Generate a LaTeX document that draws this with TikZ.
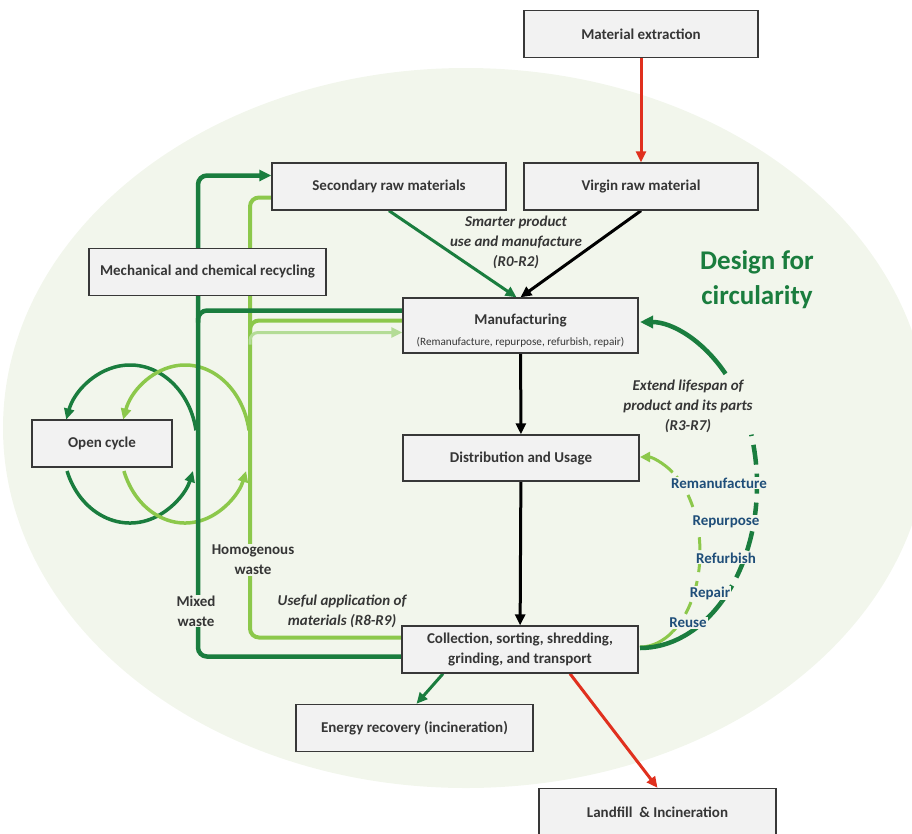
\documentclass[tikz,border=0pt]{standalone}
\usepackage{fontspec}
\setmainfont{Carlito}
\usetikzlibrary{positioning,arrows.meta,calc}
\definecolor{CircGreen}{HTML}{1A7D3E}
\definecolor{CircLight}{HTML}{8CC84B}
\definecolor{CircPale}{HTML}{B4DC96}
\definecolor{FlowRed}{HTML}{E0301E}
\definecolor{TagBlue}{HTML}{1F4E79}
\definecolor{BoxFill}{HTML}{F2F2F2}
\definecolor{BoxLine}{HTML}{383838}
\definecolor{TextGray}{HTML}{363636}
\definecolor{BgGreen}{HTML}{F2F6EC}
\pgfdeclarelayer{backdrop}
\pgfdeclarelayer{wires}
\pgfsetlayers{backdrop,wires,main}

\begin{document}
\begin{tikzpicture}[x=1pt,y=-1pt,
  stage/.style={draw=BoxLine, line width=1.4pt, fill=BoxFill, minimum height=47pt, inner sep=2pt,
    text=TextGray, align=center, font=\fontsize{15}{20}\selectfont\bfseries},
  note/.style={text=TextGray, align=center, inner sep=1pt, font=\fontsize{15}{20}\selectfont\bfseries\itshape},
  waste/.style={text=TextGray, align=center, inner sep=1pt, fill=BgGreen, font=\fontsize{15}{20}\selectfont\bfseries},
  tag/.style={text=TagBlue, inner sep=1pt, fill=BgGreen, font=\fontsize{15}{18}\selectfont\bfseries},
  flow/.style={line width=3pt, -{Triangle[length=11pt,width=10pt]}},
  mixline/.style={CircGreen, line width=4.5pt, rounded corners=9pt},
  homline/.style={CircLight, line width=4pt, rounded corners=9pt},
  loopline/.style={line width=3.5pt, -{Triangle[length=11pt,width=10pt]}}]
  \useasboundingbox (0,0) rectangle (912,833);
  \begin{pgfonlayer}{backdrop}
    \fill[BgGreen] (466,428) ellipse[x radius=463pt, y radius=360pt];
  \end{pgfonlayer}

  \node[stage, minimum width=234pt] (extract) at (641,34) {Material extraction};
  \node[stage, minimum width=234pt] (virgin) at (641,186.5) {Virgin raw material};
  \node[stage, minimum width=234pt] (second) at (389,186.5) {Secondary raw materials};
  \node[stage, minimum width=237pt] (recycle) at (207.5,272) {Mechanical and chemical recycling};
  \node[stage, minimum width=235pt, minimum height=55pt] (manuf) at (520.5,325.5)
    {\rule{0pt}{20pt}Manufacturing\\[1pt]{\fontsize{11.2}{13}\selectfont\mdseries (Remanufacture, repurpose, refurbish, repair)}};
  \node[stage, minimum width=140pt] (opencyc) at (102,443.5) {Open cycle};
  \node[stage, minimum width=236pt, minimum height=46pt] (distrib) at (521,458) {Distribution and Usage};
  \node[stage, minimum width=236pt] (collect) at (520,649.5) {Collection, sorting, shredding,\\grinding, and transport};
  \node[stage, minimum width=237pt] (energy) at (414.5,728) {Energy recovery (incineration)};
  \node[stage, minimum width=237pt] (landfill) at (657.5,812) {Landfill~ \& Incineration};

  \node[note] (smart) at (516,242) {Smarter product\\use and manufacture\\(R0-R2)};
  \node[note, fill=BgGreen] (extend) at (688,406) {Extend lifespan of\\product and its parts\\(R3-R7)};
  \node[note] (useful) at (342,611) {Useful application of\\materials (R8-R9)};
  \node[waste] (homlabel) at (253,560) {Homogenous\\waste};
  \node[waste] (mixlabel) at (196,611) {Mixed\\waste};
  \node[text=CircGreen, align=center, font=\fontsize{27}{35}\selectfont\bfseries] (design) at (757,280) {Design for\\circularity};
  \foreach \nm/\x/\y in {Remanufacture/719/483, Repurpose/726/522, Refurbish/726/558, Repair/710/593, Reuse/688/623}
    \node[tag] (tag\nm) at (\x,\y) {\nm};

  \coordinate (mixX) at (198,0);
  \coordinate (homX) at (250,0);
  \coordinate (mixIn) at ([yshift=-7pt]collect.west);
  \coordinate (homIn) at ([yshift=12pt]collect.west);
  \coordinate (mixOut) at ([yshift=11pt]second.west);
  \coordinate (homOut) at ([yshift=-11pt]second.west);
  \coordinate (manA) at ([yshift=15pt]manuf.west);
  \coordinate (manB) at ([yshift=5pt]manuf.west);
  \coordinate (manC) at ([yshift=-7pt]manuf.west);
  \coordinate (loopD) at (130,444);
  \coordinate (loopL) at (185,444);
  \coordinate (lifeC) at (640,485);
  \coordinate (reuseC) at (640,552);

  \begin{pgfonlayer}{wires}
    \draw[loopline, CircGreen] (loopD) ++(200:67pt and 79pt) arc[start angle=200, end angle=340, x radius=67pt, y radius=79pt];
    \draw[loopline, CircGreen] (loopD) ++(10:67pt and 79pt) arc[start angle=10, end angle=162, x radius=67pt, y radius=79pt];
    \draw[loopline, CircLight] (loopL) ++(200:65pt and 79pt) arc[start angle=200, end angle=340, x radius=65pt, y radius=79pt];
    \draw[loopline, CircLight] (loopL) ++(10:65pt and 79pt) arc[start angle=10, end angle=162, x radius=65pt, y radius=79pt];

    \draw[homline] (homIn) -| (homX |- homOut) -- (homOut);
    \draw[homline] ($(homX |- manB)+(0,-12pt)$) |- (manB);
    \draw[CircPale, line width=3pt, rounded corners=8pt, -{Triangle[length=11pt,width=10pt]}] ($(homX |- manC)+(0,-12pt)$) |- (manC);
    \draw[mixline, -{Triangle[length=12pt,width=11pt]}] (mixIn) -| (mixX |- mixOut) -- (mixOut);
    \draw[mixline] ($(mixX |- manA)+(0,-12pt)$) |- (manA);

    \draw[flow, FlowRed] (extract) -- (virgin);
    \draw[flow, CircGreen] (second.south) -- ([xshift=-4pt]manuf.north);
    \draw[flow] (virgin.south) -- (manuf.north);
    \draw[flow] (manuf) -- (distrib);
    \draw[flow] (distrib) -- (collect);
    \draw[flow, CircGreen] ([xshift=-77pt]collect.south) -- ([xshift=2pt]energy.north);
    \draw[flow, FlowRed] ([xshift=50pt]collect.south) -- (landfill.north);

    \draw[CircLight, line width=3pt] (reuseC) ++(-90:60pt and 95pt) arc[start angle=-90, end angle=-57, x radius=60pt, y radius=95pt];
    \draw[CircLight, line width=3pt, dash pattern=on 13pt off 9pt] (reuseC) ++(-57:60pt and 95pt) arc[start angle=-57, end angle=57, x radius=60pt, y radius=95pt];
    \draw[CircLight, line width=3pt, -{Triangle[length=10pt,width=10pt]}] (reuseC) ++(57:60pt and 95pt) arc[start angle=57, end angle=90, x radius=60pt, y radius=95pt];
    \draw[CircGreen, line width=4.5pt] (lifeC) ++(-90:117pt and 163pt) arc[start angle=-90, end angle=-46, x radius=117pt, y radius=163pt];
    \draw[CircGreen, line width=4.5pt, dash pattern=on 20pt off 9pt] (lifeC) ++(-46:117pt and 163pt) arc[start angle=-46, end angle=18, x radius=117pt, y radius=163pt];
    \draw[CircGreen, line width=4.5pt, -{Triangle[length=13pt,width=12pt]}] (lifeC) ++(43:117pt and 163pt) arc[start angle=43, end angle=90, x radius=117pt, y radius=163pt];
  \end{pgfonlayer}
\end{tikzpicture}
\end{document}
